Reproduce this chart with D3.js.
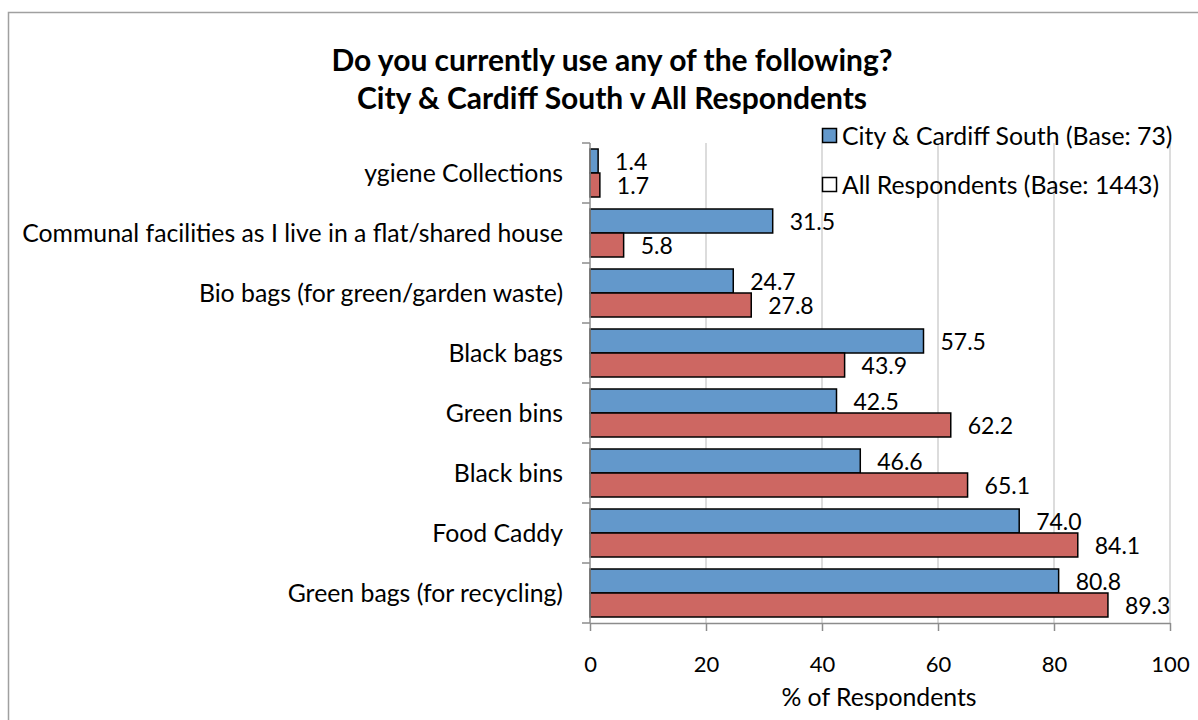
<!DOCTYPE html>
<html>
<head>
<meta charset="utf-8">
<script src="https://cdn.jsdelivr.net/npm/d3@7"></script>
<style>
  html, body { margin: 0; padding: 0; background: #fff; }
  svg { display: block; font-family: Lato, "Open Sans", sans-serif; }
</style>
</head>
<body>
<svg id="chart" width="1198" height="720"></svg>
<script>
// ---- data ----
const categories = [
  "ygiene Collections",
  "Communal facilities as I live in a flat/shared house",
  "Bio bags (for green/garden waste)",
  "Black bags",
  "Green bins",
  "Black bins",
  "Food Caddy",
  "Green bags (for recycling)"
];
const cityValues = [1.4, 31.5, 24.7, 57.5, 42.5, 46.6, 74.0, 80.8];
const allValues  = [1.7, 5.8, 27.8, 43.9, 62.2, 65.1, 84.1, 89.3];
const seriesNames = ["City & Cardiff South (Base: 73)", "All Respondents (Base: 1443)"];
const xTicks = [0, 20, 40, 60, 80, 100];
const titleLines = ["Do you currently use any of the following?", "City & Cardiff South v All Respondents"];
const xAxisTitle = "% of Respondents";

// ---- layout ----
const svg = d3.select("#chart");
const pLeft = 590, pRight = 1170, pTop = 143, pBottom = 623;
const blue = "#6398CB", red = "#CD6762";

// outer border
svg.append("rect").attr("x", 8.5).attr("y", 12.5).attr("width", 1300).attr("height", 800)
  .attr("fill", "none").attr("stroke", "#a0a0a0").attr("stroke-width", 1.5);

const x = d3.scaleLinear().domain([0, 100]).range([pLeft, pRight]);
const y = d3.scaleBand().domain(categories).range([pTop, pBottom]).paddingInner(0.2).paddingOuter(0.1);
const ySub = d3.scaleBand().domain([0, 1]).range([0, y.bandwidth()]);

// gridlines
svg.append("g").selectAll("line").data(xTicks.filter(t => t > 0)).join("line")
  .attr("x1", d => x(d)).attr("x2", d => x(d)).attr("y1", pTop).attr("y2", pBottom)
  .attr("stroke", "#d0d0d0").attr("stroke-width", 1.5);

// bars
const groups = svg.append("g").selectAll("g").data(categories).join("g")
  .attr("transform", d => `translate(0,${y(d)})`);
groups.append("rect")
  .attr("x", x(0)).attr("y", ySub(0))
  .attr("width", (d, i) => x(cityValues[i]) - x(0)).attr("height", ySub.bandwidth())
  .attr("fill", blue).attr("stroke", "#000").attr("stroke-width", 1.5);
groups.append("rect")
  .attr("x", x(0)).attr("y", ySub(1))
  .attr("width", (d, i) => x(allValues[i]) - x(0)).attr("height", ySub.bandwidth())
  .attr("fill", red).attr("stroke", "#000").attr("stroke-width", 1.5);

// value labels
groups.append("text")
  .attr("x", (d, i) => x(cityValues[i]) + 17).attr("y", ySub(0) + ySub.bandwidth() / 2 + 9)
  .attr("font-size", 23).attr("fill", "#000")
  .text((d, i) => cityValues[i].toFixed(1));
groups.append("text")
  .attr("x", (d, i) => x(allValues[i]) + 17).attr("y", ySub(1) + ySub.bandwidth() / 2 + 9)
  .attr("font-size", 23).attr("fill", "#000")
  .text((d, i) => allValues[i].toFixed(1));

// x axis
const xAxis = svg.append("g").attr("transform", `translate(0,${pBottom})`)
  .call(d3.axisBottom(x).tickValues(xTicks).tickSize(8).tickPadding(25).tickSizeOuter(0));
xAxis.select(".domain").attr("stroke", "#8c8c8c").attr("stroke-width", 1.5);
xAxis.selectAll(".tick line").attr("stroke", "#8c8c8c").attr("stroke-width", 1.5);
xAxis.selectAll("text").attr("font-size", 22).attr("fill", "#000").attr("font-family", "Lato, sans-serif");

// y axis (ticks at band boundaries)
svg.append("line").attr("x1", pLeft).attr("x2", pLeft).attr("y1", pTop).attr("y2", pBottom)
  .attr("stroke", "#8c8c8c").attr("stroke-width", 1.5);
svg.append("g").selectAll("line").data(d3.range(categories.length + 1)).join("line")
  .attr("x1", pLeft - 8).attr("x2", pLeft)
  .attr("y1", i => pTop + i * (pBottom - pTop) / categories.length)
  .attr("y2", i => pTop + i * (pBottom - pTop) / categories.length)
  .attr("stroke", "#8c8c8c").attr("stroke-width", 1.5);

// category labels
svg.append("g").selectAll("text").data(categories).join("text")
  .attr("x", 563).attr("y", d => y(d) + y.bandwidth() / 2 + 9)
  .attr("text-anchor", "end").attr("font-size", 24.8).attr("fill", "#000")
  .text(d => d);

// title
svg.append("g").selectAll("text").data(titleLines).join("text")
  .attr("x", 612).attr("y", (d, i) => 71 + i * 38)
  .attr("text-anchor", "middle").attr("font-size", 30).attr("font-weight", "bold").attr("fill", "#000")
  .text(d => d);

// x axis title
svg.append("text").attr("x", 879).attr("y", 706).attr("text-anchor", "middle")
  .attr("font-size", 24.8).attr("fill", "#000").text(xAxisTitle);

// legend
const legendFills = [blue, "#fff"];
const lg = svg.append("g").selectAll("g").data(seriesNames).join("g")
  .attr("transform", (d, i) => `translate(822,${128 + i * 49})`);
lg.append("rect").attr("x", 0.5).attr("y", 0.5).attr("width", 14).attr("height", 14)
  .attr("fill", (d, i) => legendFills[i]).attr("stroke", "#000").attr("stroke-width", 1.5);
lg.append("text").attr("x", 20).attr("y", 17).attr("font-size", 24.8).attr("fill", "#000").text(d => d);
</script>
</body>
</html>
